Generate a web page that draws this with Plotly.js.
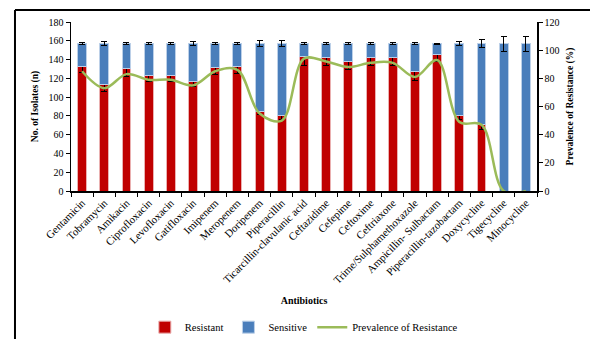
<!DOCTYPE html>
<html>
<head>
<meta charset="utf-8">
<script src="https://cdn.plot.ly/plotly-3.0.1.min.js"></script>
<style>
html,body{margin:0;padding:0;background:#fff;overflow:hidden;}
#chart{width:590px;height:339px;}
</style>
</head>
<body>
<div id="chart"></div>
<script>
const categories = ["Gentamicin","Tobramycin","Amikacin","Ciprofloxacin","Levofloxacin","Gatifloxacin","Imipenem","Meropenem","Doripenem","Piperacillin","Ticarcillin-clavulanic acid","Ceftazidime","Cefepime","Ceftoxime","Ceftriaxone","Trime/Sulphamethoxazole","Ampicillin- Sulbactam","Piperacillin-tazobactam","Doxycycline","Tigecycline","Minocycline"];
const resistant = [133,113,130,123,123,117,132,133,85,80,143,142,138,142,142,127,145,80,71,0,0];
const resistantErr = [7,7,8,6,6,6,8,8,3,4,9,8,9,8,8,9,7,4,5,0,0];
const sensitive = [24,44,27,34,34,40,25,24,72,77,14,15,19,15,15,30,12,77,86,157,157];
const sensitiveErr = [1,2,1,1,1,2,1,1,3,3,1,1,1,1,1,1,0.5,2.5,4,8,8];
const prevalence = [85,73,83,79,79,75,85,86,55,50,94,92,88,91,91,81,93,49,47,0,0];
const leftTicks = [0,20,40,60,80,100,120,140,160,180];
const rightTicks = [0,20,40,60,80,100,120];

const FONT = "Liberation Serif, Times New Roman, serif";

const traces = [
  {
    type: "bar", name: "Resistant", x: categories, y: resistant,
    marker: {color: "#C00000", line: {color: "#eab0b0", width: 1}},
    error_y: {type: "data", array: resistantErr, visible: true, color: "#000", thickness: 1, width: 3}
  },
  {
    type: "bar", name: "Sensitive", x: categories, y: sensitive,
    marker: {color: "#4A7EBB", line: {color: "#bcd0e8", width: 1}},
    error_y: {type: "data", array: sensitiveErr, visible: true, color: "#000", thickness: 1, width: 3}
  },
  {
    type: "scatter", mode: "lines", name: "Prevalence of Resistance", x: categories, y: prevalence,
    yaxis: "y2", line: {color: "#9BBB59", width: 2.5, shape: "spline", smoothing: 1}
  }
];

const layout = {
  width: 590, height: 339,
  margin: {l: 71, r: 53, t: 22, b: 148},
  paper_bgcolor: "#fff", plot_bgcolor: "#fff",
  font: {family: FONT, color: "#000", size: 10},
  barmode: "stack", bargap: 0.6,
  showlegend: true,
  legend: {orientation: "h", x: 0.515, xanchor: "center", xref: "container",
           y: 0.035, yanchor: "middle", yref: "container",
           font: {family: FONT, size: 10.5}, traceorder: "normal", itemwidth: 30},
  xaxis: {
    type: "category", tickangle: -45, tickfont: {family: FONT, size: 10.8},
    showline: true, linecolor: "#000", linewidth: 1.5,
    ticks: "outside", ticklen: 4, tickcolor: "#000", tickson: "boundaries",
    showgrid: false, zeroline: false, automargin: false,
    title: {text: "<b>Antibiotics</b>", font: {family: FONT, size: 10}, standoff: 12}
  },
  yaxis: {
    range: [0, 180], tickvals: leftTicks, showgrid: false, zeroline: false,
    showline: true, linecolor: "#000", linewidth: 1.5,
    ticks: "outside", ticklen: 4, tickcolor: "#000", tickfont: {family: FONT, size: 10},
    automargin: false,
    title: {text: "<b>No. of Isolates (n)</b>", font: {family: FONT, size: 9.5}, standoff: 8}
  },
  yaxis2: {
    range: [0, 120], tickvals: rightTicks, overlaying: "y", side: "right",
    showgrid: false, zeroline: false,
    showline: true, linecolor: "#000", linewidth: 1.5,
    ticks: "outside", ticklen: 4, tickcolor: "#000", tickfont: {family: FONT, size: 10},
    automargin: false,
    title: {text: "<b>Prevalence of Resistance (%)</b>", font: {family: FONT, size: 9.5}, standoff: 8}
  },
  shapes: [
    {type: "line", xref: "paper", yref: "paper", x0: -0.1202, x1: -0.1202, y0: 1.071, y1: -0.9, line: {color: "#000", width: 2}},
    {type: "line", xref: "paper", yref: "paper", x0: -0.1202, x1: 1.12, y0: 1.071, y1: 1.071, line: {color: "#000", width: 2}}
  ]
};

Plotly.newPlot("chart", traces, layout, {displayModeBar: false, staticPlot: true});
</script>
</body>
</html>
